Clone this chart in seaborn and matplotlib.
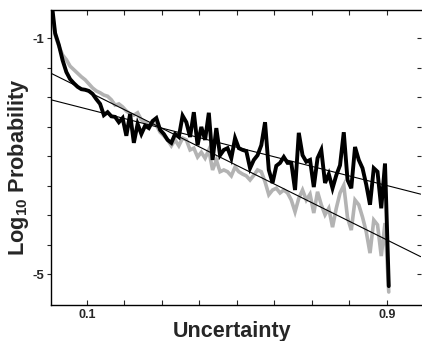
import numpy as np
import pandas as pd
import matplotlib
matplotlib.use("Agg")
import matplotlib.pyplot as plt
import seaborn as sns

# ---- data ----
uncertainty = [round(0.005 + 0.01 * i, 3) for i in range(91)]

black_log_prob = [
    -0.35, -0.91, -1.11, -1.37, -1.57, -1.69, -1.76, -1.82, -1.86, -1.87,
    -1.89, -1.94, -2.03, -2.11, -2.30, -2.25, -2.32, -2.33, -2.42, -2.35,
    -2.65, -2.28, -2.77, -2.45, -2.62, -2.48, -2.52, -2.40, -2.35, -2.55,
    -2.62, -2.72, -2.77, -2.62, -2.67, -2.31, -2.42, -2.67, -2.25, -2.81,
    -2.50, -2.72, -2.26, -3.06, -2.52, -2.98, -2.89, -2.86, -3.03, -2.69,
    -2.86, -2.89, -2.91, -3.20, -3.06, -2.98, -2.81, -2.42, -3.23, -3.45,
    -3.16, -3.11, -3.01, -3.11, -3.11, -3.57, -2.60, -2.98, -3.09, -3.06,
    -3.52, -3.03, -2.89, -3.45, -3.30, -3.54, -3.32, -3.15, -2.59, -3.40,
    -3.54, -2.84, -3.06, -3.20, -3.48, -3.82, -3.20, -3.26, -3.88, -3.12,
    -5.20,
]

gray_log_prob = [
    -0.45, -0.94, -1.13, -1.28, -1.36, -1.47, -1.53, -1.59, -1.65, -1.70,
    -1.77, -1.84, -1.89, -1.92, -1.96, -1.98, -2.04, -2.13, -2.11, -2.16,
    -2.23, -2.28, -2.30, -2.26, -2.38, -2.42, -2.47, -2.42, -2.47, -2.59,
    -2.65, -2.72, -2.82, -2.72, -2.82, -2.69, -2.72, -2.89, -2.86, -3.01,
    -2.93, -3.03, -2.89, -3.23, -3.06, -3.26, -3.23, -3.26, -3.33, -3.18,
    -3.26, -3.30, -3.33, -3.40, -3.32, -3.23, -3.26, -3.43, -3.65, -3.57,
    -3.54, -3.62, -3.57, -3.62, -3.74, -3.94, -3.71, -3.57, -3.74, -3.64,
    -3.96, -3.60, -3.82, -3.99, -3.88, -4.20, -3.88, -3.62, -3.49, -4.04,
    -4.25, -3.74, -3.82, -4.03, -4.28, -4.64, -4.08, -4.16, -4.69, -4.13,
    -5.30,
]

fit_x = [0.004, 0.99]
fit_steep = [-1.59, -4.70]
fit_shallow = [-2.04, -3.64]

x_ticks = [0.1, 0.2, 0.3, 0.4, 0.5, 0.6, 0.7, 0.8, 0.9]
x_tick_labels = ["0.1", "", "", "", "", "", "", "", "0.9"]
y_ticks = [-5, -4.5, -4, -3.5, -3, -2.5, -2, -1.5, -1]
y_tick_labels = ["-5", "", "", "", "", "", "", "", "-1"]

# ---- style ----
sns.set_style("white")
plt.rcParams["font.family"] = ["Liberation Sans", "DejaVu Sans"]
plt.rcParams["mathtext.fontset"] = "custom"
plt.rcParams["mathtext.bf"] = "Liberation Sans:bold"
plt.rcParams["mathtext.rm"] = "Liberation Sans:bold"
plt.rcParams["mathtext.default"] = "bf"

fig = plt.figure(figsize=(4.22, 3.41), dpi=100)
ax = fig.add_axes([51 / 422, 36 / 341, 370 / 422, 295 / 341])

df = pd.DataFrame({"u": uncertainty, "black": black_log_prob, "gray": gray_log_prob})
sns.lineplot(data=df, x="u", y="gray", ax=ax, color="#b3b3b3", lw=2.6, solid_joinstyle="miter")
sns.lineplot(data=df, x="u", y="black", ax=ax, color="black", lw=2.8, solid_joinstyle="miter")
fit_df = pd.DataFrame({"x": fit_x, "steep": fit_steep, "shallow": fit_shallow})
sns.lineplot(data=fit_df, x="x", y="steep", ax=ax, color="black", lw=0.8)
sns.lineplot(data=fit_df, x="x", y="shallow", ax=ax, color="black", lw=0.8)

ax.set_xlim(0.004, 0.991)
ax.set_ylim(-5.52, -0.517)

ax.set_xticks(x_ticks)
ax.set_xticklabels(x_tick_labels, fontsize=9, fontweight="bold")
ax.set_yticks(y_ticks)
ax.set_yticklabels(y_tick_labels, fontsize=9.5, fontweight="bold")
ax.tick_params(axis="x", direction="in", length=3.5, width=0.8, pad=3, bottom=True, top=False)
ax.tick_params(axis="y", direction="out", length=3, width=0.8, pad=2, left=True, right=False)

for side in ["left", "bottom", "top"]:
    ax.spines[side].set_visible(True)
    ax.spines[side].set_color("black")
    ax.spines[side].set_linewidth(1.0)
ax.spines["right"].set_visible(False)

sec_top = ax.secondary_xaxis("top")
sec_top.set_xticks(x_ticks)
sec_top.tick_params(axis="x", direction="in", length=3.5, width=0.8, labeltop=False)
sec_top.spines["top"].set_visible(False)

sec_right = ax.secondary_yaxis("right")
sec_right.set_yticks(y_ticks)
sec_right.tick_params(axis="y", direction="in", length=3, width=0.8, labelright=False)
sec_right.spines["right"].set_visible(False)

ax.set_xlabel("Uncertainty", fontsize=15.5, fontweight="bold")
ax.xaxis.set_label_coords(0.4905, -0.054)
ax.set_ylabel(r"Log$_{10}$ Probability", fontsize=15.7, fontweight="bold")
ax.yaxis.set_label_coords(-0.054, 0.469)

fig.savefig("out.png", dpi=100)
